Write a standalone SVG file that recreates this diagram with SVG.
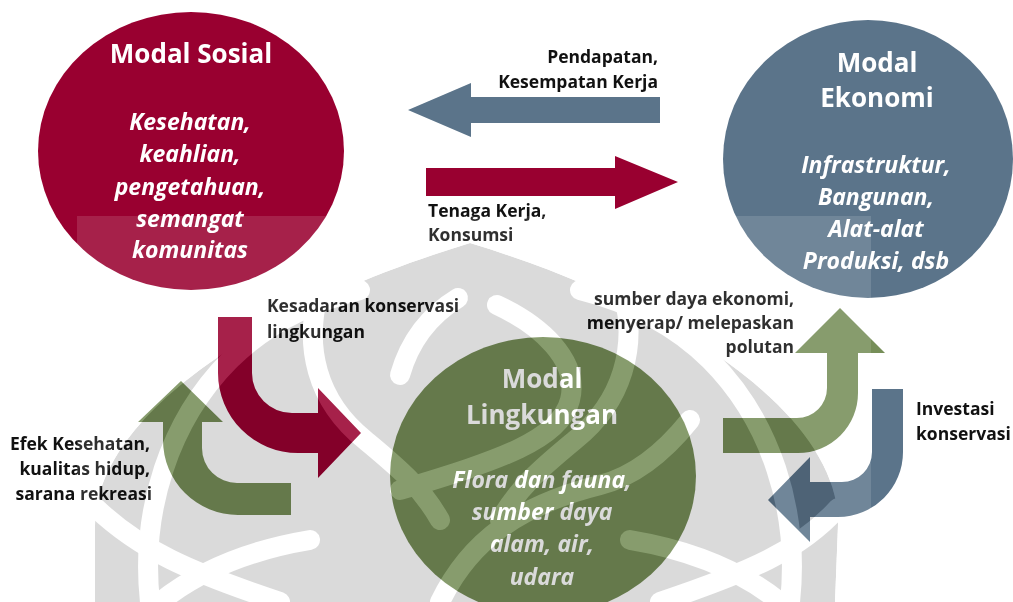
<svg xmlns="http://www.w3.org/2000/svg" width="1013" height="602" viewBox="0 0 1013 602">
<style>
.title{font-family:"Open Sans",Lato,"Liberation Sans",sans-serif;font-weight:bold;fill:#fff;text-anchor:middle;font-size:26px}
.desc{font-family:"Open Sans",Lato,"Liberation Sans",sans-serif;font-weight:bold;font-style:italic;fill:#fff;text-anchor:middle;font-size:23px}
.lbl{font-family:"Open Sans",Lato,"Liberation Sans",sans-serif;font-weight:bold;fill:#111;font-size:17.5px}
.end{text-anchor:end}
.wc{fill:none;stroke-width:20;stroke-linecap:round}
</style>
<defs>
<path id="sil" d="M 95 602 L 95 525 C 95 420 250 310 470 243 C 690 310 840 420 838 525 L 835 602 Z"/>
<g id="curves">
<path d="M 96 508 C 140 550 190 572 280 602"/>
<path d="M 838 508 C 800 550 750 572 660 602"/>
<path d="M 150 602 C 140 510 170 420 230 360 C 270 320 320 300 360 290"/>
<path d="M 790 602 C 800 510 770 420 710 360 C 670 320 620 300 580 290"/>
<path d="M 318 295 C 305 345 315 400 365 440 C 395 465 420 485 440 520"/>
<path d="M 625 300 C 635 345 625 400 575 440 C 545 465 520 485 500 520"/>
<path d="M 400 375 C 410 340 430 315 458 298"/>
<path d="M 497 305 C 540 325 580 360 570 400 C 560 440 500 460 400 490"/>
<path d="M 440 602 C 470 540 520 505 600 485 C 640 475 670 445 690 420"/>
<path d="M 160 602 C 200 570 250 550 310 540"/>
<path d="M 780 602 C 740 570 690 550 630 540"/>
</g>
<mask id="m-light" maskUnits="userSpaceOnUse" x="0" y="0" width="1013" height="602">
<rect x="0" y="0" width="1013" height="602" fill="#fff"/>
<use href="#sil" fill="#000"/>
<use href="#curves" class="wc" stroke="#fff"/>
</mask>
<mask id="m-dark" maskUnits="userSpaceOnUse" x="0" y="0" width="1013" height="602">
<use href="#sil" fill="#fff"/>
<use href="#curves" class="wc" stroke="#000"/>
</mask>
</defs>
<rect x="0" y="0" width="1013" height="602" fill="#fff"/>

<g id="connectors">
<polygon id="arrow-pendapatan" points="660,97 471,97 471,83 408,110 471,137 471,123 660,123" fill="#5b748a"/>
<polygon id="arrow-tenaga" points="426,168 615,168 615,156 678,182 615,209 615,196 426,196" fill="#990030"/>
<path id="arrow-kesadaran" d="M 218 317 L 252 317 L 252 373 A 40 40 0 0 0 292 413 L 318 413 L 318 388 L 361 433 L 318 478 L 318 453 L 298 453 A 80 80 0 0 1 218 373 Z" fill="#990030"/>
<path id="arrow-efek" d="M 181 381 L 223 422 L 202 422 L 202 448 A 35 35 0 0 0 237 483 L 291 483 L 291 515 L 238 515 A 75 75 0 0 1 163 440 L 163 422 L 138 422 Z" fill="#768e58"/>
<path id="arrow-sumber" d="M 723 418 L 797 418 A 30 30 0 0 0 827 388 L 827 353 L 795 353 L 840 308 L 885 353 L 858 353 L 858 393 A 60 60 0 0 1 798 453 L 723 453 Z" fill="#768e58"/>
<path id="arrow-investasi" d="M 872 389 L 903 389 L 903 452 A 65 65 0 0 1 838 517 L 810 517 L 810 542 L 768 500 L 810 457 L 810 482 L 842 482 A 30 30 0 0 0 872 452 Z" fill="#5b748a"/>
<text class="lbl end" x="658" y="63">Pendapatan,</text>
<text class="lbl end" x="658" y="88">Kesempatan Kerja</text>
<text class="lbl" x="428" y="217">Tenaga Kerja,</text>
<text class="lbl" x="428" y="241">Konsumsi</text>
<text class="lbl" x="267" y="312">Kesadaran konservasi</text>
<text class="lbl" x="267" y="338">lingkungan</text>
<text class="lbl end" x="794" y="305">sumber daya ekonomi,</text>
<text class="lbl end" x="794" y="329">menyerap/ melepaskan</text>
<text class="lbl end" x="794" y="353">polutan</text>
<text class="lbl end" x="150" y="450">Efek Kesehatan,</text>
<text class="lbl end" x="150" y="475">kualitas hidup,</text>
<text class="lbl end" x="152" y="500">sarana rekreasi</text>
<text class="lbl" x="916" y="415">Investasi</text>
<text class="lbl" x="916" y="440">konservasi</text>
</g>

<g id="node-sosial">
<ellipse cx="191" cy="151" rx="153" ry="139" fill="#990030"/>
<text class="title" x="191" y="63" font-size="25">Modal Sosial</text>
<text class="desc" x="190" y="130">Kesehatan,</text>
<text class="desc" x="190" y="162">keahlian,</text>
<text class="desc" x="190" y="195">pengetahuan,</text>
<text class="desc" x="190" y="227">semangat</text>
<text class="desc" x="190" y="258">komunitas</text>
</g>

<g id="node-ekonomi">
<ellipse cx="868" cy="159" rx="145" ry="139" fill="#5b748a"/>
<text class="title" x="877" y="72">Modal</text>
<text class="title" x="877" y="107">Ekonomi</text>
<text class="desc" x="876" y="173">Infrastruktur,</text>
<text class="desc" x="876" y="205">Bangunan,</text>
<text class="desc" x="876" y="237">Alat-alat</text>
<text class="desc" x="876" y="269">Produksi, dsb</text>
</g>

<g id="node-lingkungan">
<ellipse cx="543" cy="476" rx="153" ry="139" fill="#768e58"/>
<text class="title" x="542" y="388" font-size="24">Modal</text>
<text class="title" x="542" y="424" font-size="24">Lingkungan</text>
<text class="desc" x="542" y="488">Flora dan fauna,</text>
<text class="desc" x="542" y="520">sumber daya</text>
<text class="desc" x="542" y="552">alam, air,</text>
<text class="desc" x="542" y="585">udara</text>
</g>

<g id="watermark">
<rect x="77" y="216" width="794" height="386" fill="#fff" fill-opacity="0.13" mask="url(#m-light)"/>
<use href="#sil" fill="#dadada" mask="url(#m-dark)" style="mix-blend-mode:multiply"/>
</g>
</svg>
